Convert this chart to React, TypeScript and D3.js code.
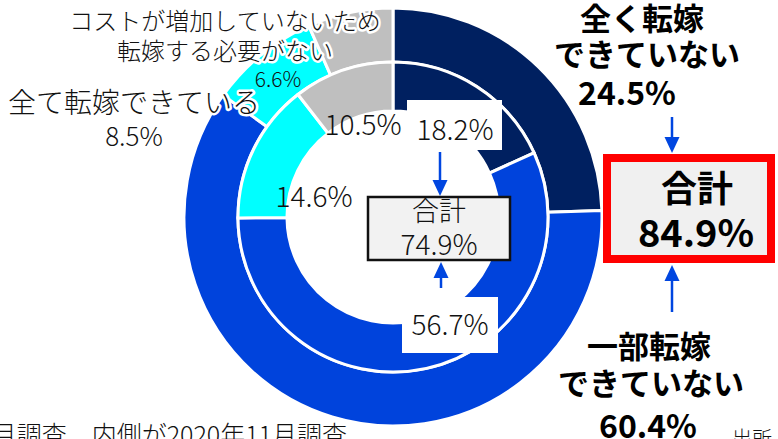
import React from 'react';
import * as d3 from 'd3';

const categories = ['全く転嫁できていない', '一部転嫁できていない', '全て転嫁できている', 'コストが増加していないため転嫁する必要がない'];
const outerValues = [24.5, 60.4, 8.5, 6.6]; // outer ring (latest survey)
const innerValues = [18.2, 56.7, 14.6, 10.5]; // inner ring (2020年11月調査)
const colors = ['#002060', '#0043DC', '#00FFFF', '#BFBFBF'];

const W = 778;
const H = 439;
const CX = 393;
const CY = 217;
const FONT = "'Noto Sans CJK JP', 'Noto Sans', sans-serif";
const ARROW = '#0046E0';

function Arrow({ x, y1, y2 }: { x: number; y1: number; y2: number }) {
  const dir = y2 > y1 ? 1 : -1;
  const headL = 16;
  const headW = 7.5;
  return (
    <g>
      <line x1={x} y1={y1} x2={x} y2={y2 - dir * headL} stroke={ARROW} strokeWidth={2.5} />
      <polygon points={`${x},${y2} ${x - headW},${y2 - dir * headL} ${x + headW},${y2 - dir * headL}`} fill={ARROW} />
    </g>
  );
}

export default function App() {
  const pie = d3.pie<number>().sort(null).value((d) => d);
  const outerArcs = pie(outerValues);
  const innerArcs = pie(innerValues);
  const outerArc = d3.arc<d3.PieArcDatum<number>>().innerRadius(155).outerRadius(209);
  const innerArc = d3.arc<d3.PieArcDatum<number>>().innerRadius(106).outerRadius(155);

  const innerTotal = (innerValues[0] + innerValues[1]).toFixed(1);
  const outerTotal = (outerValues[0] + outerValues[1]).toFixed(1);

  const light = { fontFamily: FONT, fontWeight: 300, fill: '#111' } as React.CSSProperties;
  const bold = { fontFamily: FONT, fontWeight: 700, fill: '#000' } as React.CSSProperties;
  const halo = { stroke: '#fff', strokeWidth: 5, paintOrder: 'stroke', strokeLinejoin: 'round' } as React.CSSProperties;

  return (
    <svg width={W} height={H} style={{ position: 'absolute', left: 0, top: 0, background: '#fff' }}>
      <g transform={`translate(${CX},${CY})`}>
        {outerArcs.map((a, i) => (
          <path key={'o' + i} d={outerArc(a) || ''} fill={colors[i]} stroke="#fff" strokeWidth={3} />
        ))}
        {innerArcs.map((a, i) => (
          <path key={'i' + i} d={innerArc(a) || ''} fill={colors[i]} stroke="#fff" strokeWidth={3} />
        ))}
      </g>

      {/* left labels */}
      <g textAnchor="middle">
        <text x={225} y={30} fontSize={24} style={{ ...light, ...halo }}>コストが増加していないため</text>
        <text x={225} y={60} fontSize={24} style={{ ...light, ...halo }}>転嫁する必要がない</text>
        <text x={278} y={87} fontSize={21} style={{ ...light }}>{outerValues[3].toFixed(1)}%</text>
        <text x={134} y={113} fontSize={28} style={{ ...light, ...halo }}>全て転嫁できている</text>
        <text x={134} y={146} fontSize={26} style={{ ...light }}>{outerValues[2].toFixed(1)}%</text>
        <text x={363} y={135} fontSize={28} style={light}>{innerValues[3].toFixed(1)}%</text>
        <text x={314} y={207} fontSize={28} style={light}>{innerValues[2].toFixed(1)}%</text>
      </g>

      {/* inner annotations */}
      <rect x={407} y={100} width={95} height={50} fill="#fff" />
      <text x={455} y={140} fontSize={28} textAnchor="middle" style={light}>{innerValues[0].toFixed(1)}%</text>
      <Arrow x={440} y1={152} y2={196} />
      <rect x={368} y={197} width={142} height={63} fill="#F2F2F2" stroke="#111" strokeWidth={2.5} />
      <text x={439} y={221} fontSize={27} textAnchor="middle" style={light}>合計</text>
      <text x={439} y={255} fontSize={28} textAnchor="middle" style={light}>{innerTotal}%</text>
      <Arrow x={441} y1={288} y2={262} />
      <rect x={402} y={297} width={96} height={56} fill="#fff" />
      <text x={450} y={335} fontSize={28} textAnchor="middle" style={light}>{innerValues[1].toFixed(1)}%</text>

      {/* right annotations */}
      <g textAnchor="middle">
        <text x={642} y={30} fontSize={31} style={bold}>全く転嫁</text>
        <text x={647} y={66} fontSize={31} style={bold}>できていない</text>
        <text x={627} y={105} fontSize={32} style={bold}>{outerValues[0].toFixed(1)}%</text>
      </g>
      <Arrow x={672} y1={117} y2={153} />
      <rect x={607} y={158} width={164} height={101} fill="#F0F0F0" stroke="#FF0000" strokeWidth={8} />
      <text x={697} y={202} fontSize={36} textAnchor="middle" style={bold}>合計</text>
      <text x={696} y={247} fontSize={38} textAnchor="middle" style={bold}>{outerTotal}%</text>
      <Arrow x={672} y1={312} y2={265} />
      <g textAnchor="middle">
        <text x={649} y={358} fontSize={31} style={bold}>一部転嫁</text>
        <text x={651} y={395} fontSize={31} style={bold}>できていない</text>
        <text x={648} y={438} fontSize={32} style={bold}>{outerValues[1].toFixed(1)}%</text>
      </g>

      {/* footnotes */}
      <text x={347} y={444} fontSize={25} textAnchor="end" style={light}>月調査、内側が2020年11月調査</text>
      <text x={732} y={446} fontSize={20} style={light}>出所</text>
    </svg>
  );
}
